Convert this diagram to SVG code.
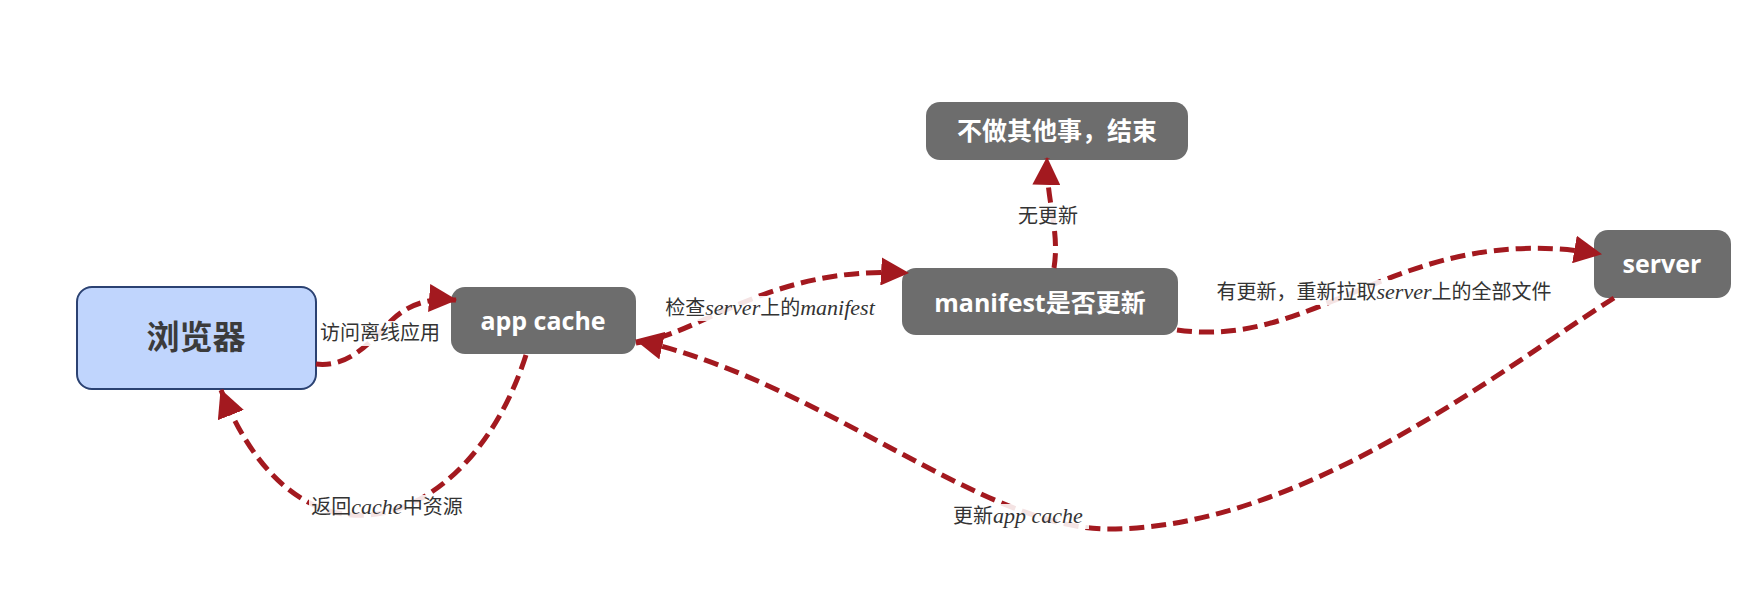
<svg xmlns="http://www.w3.org/2000/svg" width="1746" height="608" viewBox="0 0 1746 608">
<style>
.gray{fill:#6d6d6d}
.nt{font-family:"Open Sans","Noto Sans CJK SC",sans-serif;font-weight:700;fill:#ffffff;text-anchor:middle}
.lbl{font-family:"Liberation Serif","Noto Sans CJK SC",serif;font-size:20px;fill:#333333;text-anchor:middle}
.lb{fill:#ffffff;fill-opacity:0.88}
.c{fill:none;stroke:#a3191f;stroke-width:5;stroke-dasharray:15 7}
.it{font-style:italic;font-size:22px}
</style>
<defs>
<marker id="ah" markerUnits="userSpaceOnUse" markerWidth="28" markerHeight="28" viewBox="0 0 26 26" refX="25" refY="13" orient="auto">
<path d="M0,0 L26,13 L0,26 Z" fill="#a3191f"/>
</marker>
</defs>
<rect width="1746" height="608" fill="#ffffff"/>
<g id="browser">
<rect x="77" y="287" width="239" height="102" rx="15" fill="#c0d5fd" stroke="#2b4272" stroke-width="2"/>
<text x="196" y="349" font-family="'Noto Sans CJK SC',sans-serif" font-weight="700" font-size="33" fill="#3b3b3b" text-anchor="middle">浏览器</text>
</g>
<g id="appcache">
<rect class="gray" x="451" y="287" width="185" height="67" rx="14"/>
<text class="nt" x="543" y="330" font-size="25">app cache</text>
</g>
<g id="manifest">
<rect class="gray" x="902" y="268" width="276" height="67" rx="14"/>
<text class="nt" x="1040" y="312" font-size="25">manifest是否更新</text>
</g>
<g id="done">
<rect class="gray" x="926" y="102" width="262" height="58" rx="14"/>
<text class="nt" x="1057" y="140" font-size="25">不做其他事，结束</text>
</g>
<g id="server">
<rect class="gray" x="1594" y="230" width="137" height="68" rx="14"/>
<text class="nt" x="1662" y="273" font-size="25">server</text>
</g>
<g id="connectors">
<path class="c" d="M316,364 C350,368 372,340 392,320 C410,303 430,298 456,300" marker-end="url(#ah)"/>
<path class="c" d="M526,355 C470,530 300,590 221,390" marker-end="url(#ah)"/>
<path class="c" d="M636,343 C700,335 770,265 908,273" marker-end="url(#ah)"/>
<path class="c" d="M1054,268 C1060,230 1046,200 1047,158" marker-end="url(#ah)"/>
<path class="c" d="M1177,330 C1320,350 1400,220 1601,254" marker-end="url(#ah)"/>
<path class="c" d="M1614,298 C1500,370 1300,530 1107,529 C980,528 820,380 636,340" marker-end="url(#ah)"/>
<rect class="lb" x="318" y="321" width="124" height="25"/>
<text class="lbl" x="380" y="340">访问离线应用</text>
<rect class="lb" x="309" y="495" width="156" height="25"/>
<text class="lbl" x="387" y="514">返回<tspan class="it">cache</tspan>中资源</text>
<rect class="lb" x="659" y="296" width="222" height="25"/>
<text class="lbl" x="770" y="315">检查<tspan class="it">server</tspan>上的<tspan class="it">manifest</tspan></text>
<rect class="lb" x="1016" y="204" width="64" height="25"/>
<text class="lbl" x="1048" y="223">无更新</text>
<rect class="lb" x="1212" y="280" width="344" height="25"/>
<text class="lbl" x="1384" y="299">有更新，重新拉取<tspan class="it">server</tspan>上的全部文件</text>
<rect class="lb" x="947" y="504" width="142" height="25"/>
<text class="lbl" x="1018" y="523">更新<tspan class="it">app cache</tspan></text>
</g>
</svg>
